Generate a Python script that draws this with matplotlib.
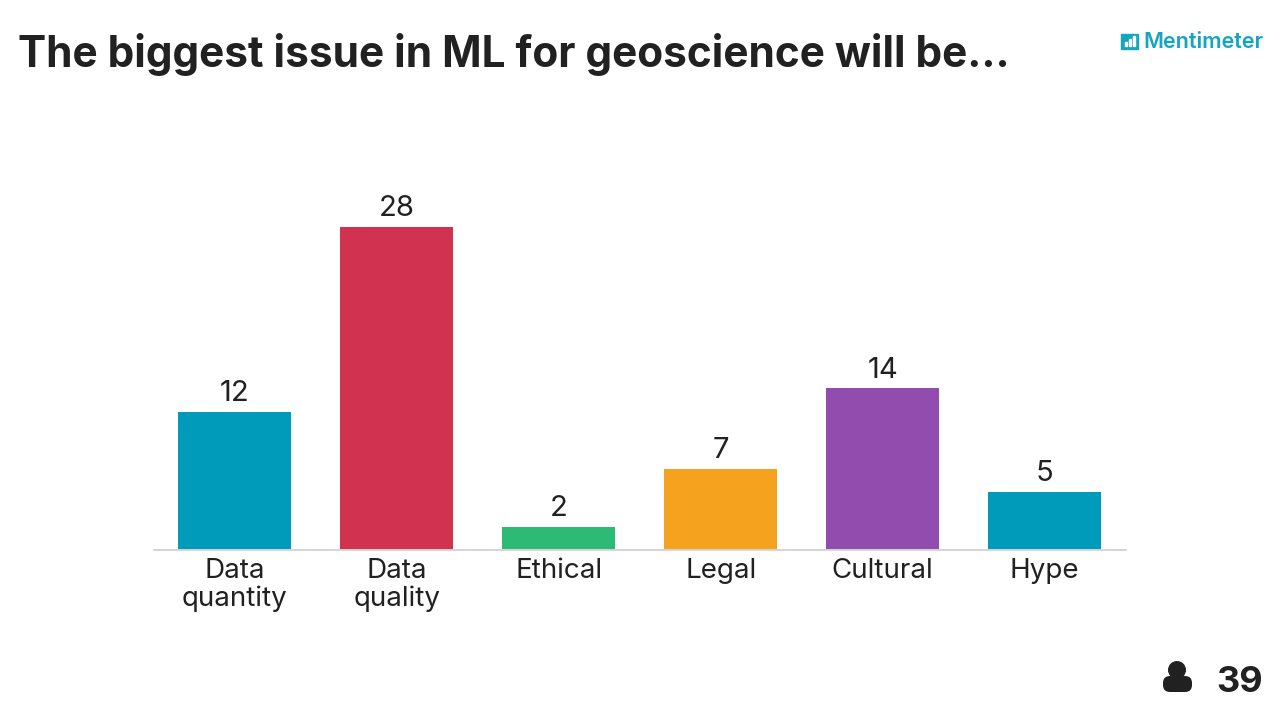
import matplotlib
matplotlib.use('Agg')
import matplotlib.pyplot as plt
from matplotlib.patches import Circle, FancyBboxPatch, Rectangle

# data
categories = ['Data\nquantity', 'Data\nquality', 'Ethical', 'Legal', 'Cultural', 'Hype']
votes = [12, 28, 2, 7, 14, 5]
colors = ['#009bbb', '#d1324f', '#2cba75', '#f5a31e', '#914cae', '#009bbb']
title = 'The biggest issue in ML for geoscience will be...'
participants = '39'

W, H = 1280, 720
dark = '#212121'
teal = '#14a5bf'

plt.rcParams['font.family'] = ['Inter', 'DejaVu Sans']

fig = plt.figure(figsize=(W / 100, H / 100), dpi=100)

# plot area, baseline sits at y=550 px
ax = fig.add_axes([153.7 / W, (H - 550) / H, 972 / W, 450 / H])
x = range(len(votes))
bars = ax.bar(x, votes, width=0.70, color=colors)
ax.set_xlim(-0.5, 5.5)
ax.set_ylim(0, 39)

for s in ['top', 'left', 'right']:
    ax.spines[s].set_visible(False)
ax.spines['bottom'].set_color('#d5d5d5')
ax.spines['bottom'].set_linewidth(1.4)
ax.yaxis.set_visible(False)
ax.set_xticks(list(x))
ax.set_xticklabels(categories, fontsize=20, color=dark, linespacing=1.08)
ax.tick_params(axis='x', length=0, pad=6)

for b, v in zip(bars, votes):
    ax.annotate(str(v), (b.get_x() + b.get_width() / 2, v), xytext=(0, 3.5),
                textcoords='offset points', ha='center', va='bottom',
                fontsize=21, color=dark)

# title
fig.text(18 / W, 1 - 55 / H, title, fontsize=30.5, fontweight='bold', color=dark,
         ha='left', va='center')

# overlay in pixel coordinates for logo and participant count
ov = fig.add_axes([0, 0, 1, 1])
ov.set_xlim(0, W)
ov.set_ylim(H, 0)
ov.axis('off')
ov.patch.set_alpha(0)

# logo
ov.add_patch(Rectangle((1121, 34), 17, 15, color=teal))
for bx, bh in [(1125, 4), (1129, 7), (1133, 10)]:
    ov.add_patch(Rectangle((bx, 46 - bh), 2.4, bh, color='white'))
ov.text(1143, 41.5, 'Mentimeter', fontsize=15.5, fontweight='semibold', color=teal,
        ha='left', va='center')

# person icon
ov.add_patch(Circle((1177, 670), 8.3, color=dark))
ov.add_patch(FancyBboxPatch((1163, 676), 29, 16, boxstyle='round,pad=0,rounding_size=7',
                            linewidth=0, facecolor=dark))
ov.text(1263, 682, participants, fontsize=26, fontweight='bold', color=dark,
        ha='right', va='center')

fig.savefig('out.png', dpi=100)
